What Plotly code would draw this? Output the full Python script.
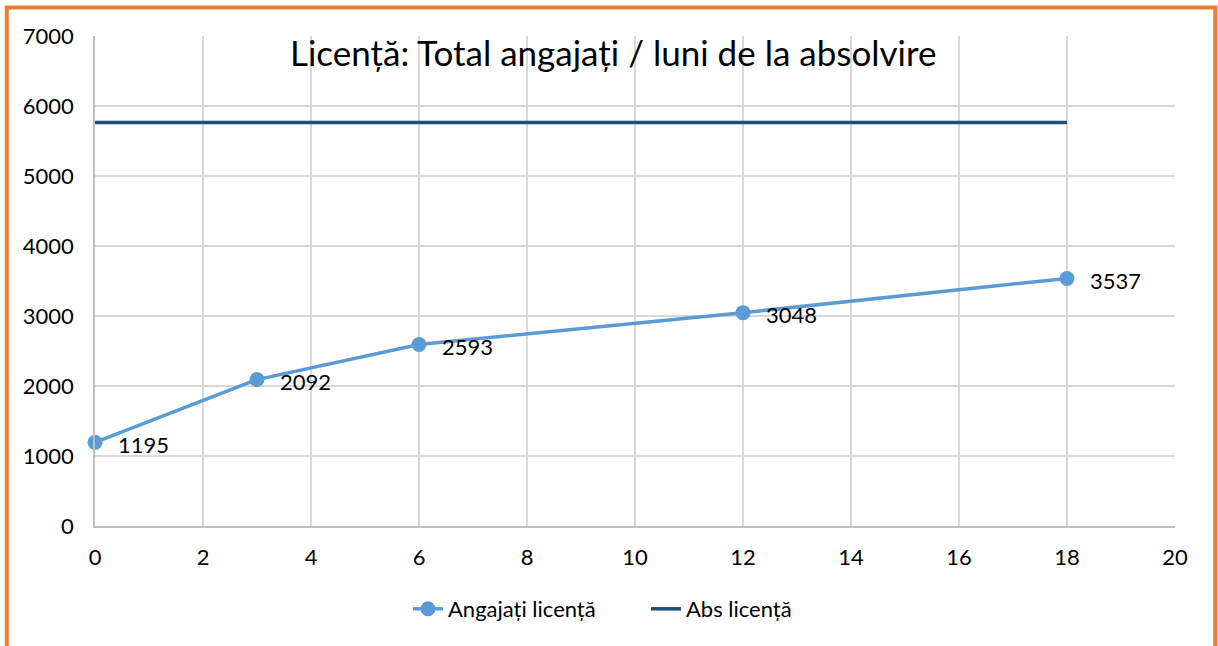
import plotly.graph_objects as go

months = [0, 3, 6, 12, 18]
angajati = [1195, 2092, 2593, 3048, 3537]
abs_months = [0, 18]
abs_licenta = [5765, 5765]
title_text = "Licență: Total angajați / luni de la absolvire"
names = ["Angajați licență", "Abs licență"]

FONT = "Lato, Calibri, Carlito, sans-serif"
W, H = 1218, 646
L, R, T, B = 95, 43, 36, 120
pw, ph = W - L - R, H - T - B

def px(x):
    return (x - L) / pw

def py(y):
    return (H - B - y) / ph

fig = go.Figure()
fig.add_trace(go.Scatter(
    x=months, y=angajati, name=names[0], mode="lines+markers",
    line=dict(color="#5B9BD5", width=3.5),
    marker=dict(color="#5B9BD5", size=15),
    cliponaxis=False,
))
fig.add_trace(go.Scatter(
    x=abs_months, y=abs_licenta, name=names[1], mode="lines",
    line=dict(color="#1F4E79", width=3.5),
))

annots = [dict(text=title_text, xref="paper", yref="paper", x=px(612.5), y=py(52),
               xanchor="center", yanchor="middle", showarrow=False,
               font=dict(family=FONT, size=35, color="#000000"))]
for m, v in zip(months, angajati):
    annots.append(dict(x=m, y=v, xref="x", yref="y", text=str(v), showarrow=False,
                       xanchor="left", yanchor="middle", xshift=21, yshift=-2,
                       font=dict(family=FONT, size=22, color="#000000")))

fig.update_layout(
    width=W, height=H,
    margin=dict(l=L, r=R, t=T, b=B),
    paper_bgcolor="white", plot_bgcolor="white",
    font=dict(family=FONT, size=22, color="#000000"),
    showlegend=True,
    legend=dict(orientation="h", x=px(646), xanchor="center", y=py(609), yanchor="middle",
                font=dict(family=FONT, size=22), traceorder="normal",
                entrywidth=193, entrywidthmode="pixels"),
    xaxis=dict(range=[0, 20], dtick=2, tick0=0, showgrid=True, gridcolor="#D9D9D9", gridwidth=1.5,
               zeroline=False, showline=True, linecolor="#BFBFBF", linewidth=1.5,
               ticks="", ticklabelstandoff=11, fixedrange=True),
    yaxis=dict(range=[0, 7000], dtick=1000, tick0=0, showgrid=True, gridcolor="#D9D9D9", gridwidth=1.5,
               zeroline=False, showline=True, linecolor="#BFBFBF", linewidth=1.5,
               ticks="", ticklabelstandoff=15, fixedrange=True),
    annotations=annots,
    shapes=[dict(type="rect", xref="paper", yref="paper",
                 x0=px(6.8), x1=px(1215.3), y0=py(680), y1=py(7.5),
                 line=dict(color="#ED7D31", width=4), fillcolor="rgba(0,0,0,0)", layer="above")],
)

fig.write_html("out.html", config={"displayModeBar": False},
               post_script="document.body.style.margin='0';document.body.style.padding='0';")
